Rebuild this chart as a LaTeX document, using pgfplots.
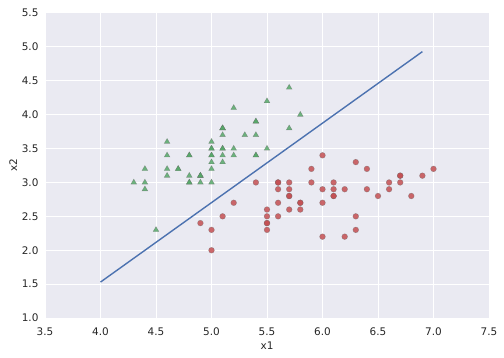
\documentclass[border=0pt]{standalone}
\usepackage{fontspec}
\setmainfont{DejaVu Sans}
\usepackage{pgfplots}
\pgfplotsset{compat=1.18}
\definecolor{bgc}{HTML}{EAEAF2}
\definecolor{sgreen}{HTML}{55A868}
\definecolor{sred}{HTML}{C44E52}
\definecolor{sblue}{HTML}{4C72B0}
\definecolor{txt}{HTML}{262626}
\begin{document}
\begin{tikzpicture}
\useasboundingbox (-45bp,-40bp) rectangle (459bp,318bp);
\begin{axis}[
  scale only axis, width=444bp, height=305bp,
  xmin=3.5, xmax=7.5, ymin=1.0, ymax=5.5,
  xtick={3.5,4.0,...,7.5}, ytick={1.0,1.5,...,5.5},
  xticklabel style={/pgf/number format/fixed,/pgf/number format/fixed zerofill,/pgf/number format/precision=1},
  yticklabel style={/pgf/number format/fixed,/pgf/number format/fixed zerofill,/pgf/number format/precision=1},
  /pgf/number format/assume math mode=true,
  axis background/.style={fill=bgc},
  axis line style={draw=none},
  major tick length=0pt,
  grid=major, grid style={white, line width=1bp},
  tick label style={font=\fontsize{10.5}{12}\selectfont, text=txt},
  label style={font=\fontsize{10.5}{12}\selectfont, text=txt},
  xlabel={x1}, ylabel={x2},
  xticklabel shift=6bp, yticklabel shift=3bp,
  xlabel shift=0bp, ylabel shift=-2bp,
  clip=false,
]
\addplot[only marks, mark=triangle*, mark size=3.3bp, draw=black!60, draw opacity=0.5, fill=sgreen, fill opacity=0.85] coordinates {
(5.1,3.5) (4.9,3.0) (4.7,3.2) (4.6,3.1) (5.0,3.6) (5.4,3.9) (4.6,3.4) (5.0,3.4) (4.4,2.9) (4.9,3.1)
(5.4,3.7) (4.8,3.4) (4.8,3.0) (4.3,3.0) (5.8,4.0) (5.7,4.4) (5.4,3.9) (5.1,3.5) (5.7,3.8) (5.1,3.8)
(5.4,3.4) (5.1,3.7) (4.6,3.6) (5.1,3.3) (4.8,3.4) (5.0,3.0) (5.0,3.4) (5.2,3.5) (5.2,3.4) (4.7,3.2)
(4.8,3.1) (5.4,3.4) (5.2,4.1) (5.5,4.2) (4.9,3.1) (5.0,3.2) (5.5,3.5) (4.9,3.1) (4.4,3.0) (5.1,3.4)
(5.0,3.5) (4.5,2.3) (4.4,3.2) (5.0,3.5) (5.1,3.8) (4.8,3.0) (5.1,3.8) (4.6,3.2) (5.3,3.7) (5.0,3.3)
};
\addplot[only marks, mark=*, mark size=2.9bp, draw=black!60, draw opacity=0.5, fill=sred, fill opacity=0.85] coordinates {
(7.0,3.2) (6.4,3.2) (6.9,3.1) (5.5,2.3) (6.5,2.8) (5.7,2.8) (6.3,3.3) (4.9,2.4) (6.6,2.9) (5.2,2.7)
(5.0,2.0) (5.9,3.0) (6.0,2.2) (6.1,2.9) (5.6,2.9) (6.7,3.1) (5.6,3.0) (5.8,2.7) (6.2,2.2) (5.6,2.5)
(5.9,3.2) (6.1,2.8) (6.3,2.5) (6.1,2.8) (6.4,2.9) (6.6,3.0) (6.8,2.8) (6.7,3.0) (6.0,2.9) (5.7,2.6)
(5.5,2.4) (5.5,2.4) (5.8,2.7) (6.0,2.7) (5.4,3.0) (6.0,3.4) (6.7,3.1) (6.3,2.3) (5.6,3.0) (5.5,2.5)
(5.5,2.6) (6.1,3.0) (5.8,2.6) (5.0,2.3) (5.6,2.7) (5.7,3.0) (5.7,2.9) (6.2,2.9) (5.1,2.5) (5.7,2.8)
};
\addplot[sblue, line width=1.4bp, no marks] coordinates {(4.0,1.53) (6.9,4.93)};
\end{axis}
\end{tikzpicture}
\end{document}
